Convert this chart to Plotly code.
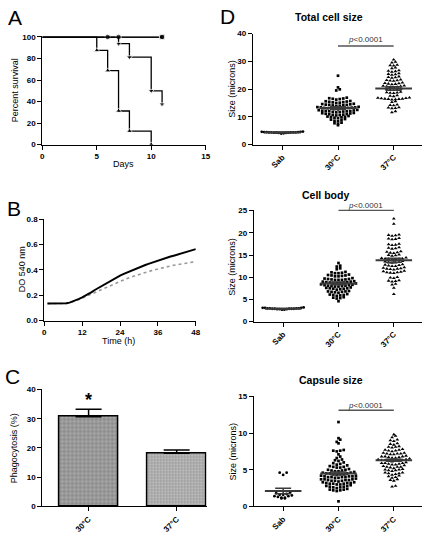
import numpy as np
import plotly.graph_objects as go

FONT = "Arial, Liberation Sans, sans-serif"
W, H = 430, 540

# ---------------- Panel A: survival ----------------
km_up_days = [0, 5, 6, 7, 8, 10]
km_up_surv = [100, 87.5, 68.75, 31.25, 12.5, 0]
km_down_days = [0, 7, 8, 10, 11]
km_down_surv = [100, 93.75, 81.25, 50, 37.5]
km_circ_days = [0, 6, 7, 11]
km_circ_surv = [100, 100, 100, 100]
km_sq_days = [0, 11]
km_sq_surv = [100, 100]

# ---------------- Panel B: growth ----------------
growth_t = list(range(1, 49))
growth_30 = [0.135, 0.135, 0.134, 0.135, 0.134, 0.135, 0.137, 0.142, 0.150, 0.160,
             0.172, 0.184, 0.196, 0.210, 0.226, 0.242, 0.257, 0.272, 0.287, 0.302,
             0.316, 0.330, 0.343, 0.356, 0.367, 0.378, 0.389, 0.400, 0.410, 0.420,
             0.430, 0.439, 0.448, 0.457, 0.466, 0.475, 0.483, 0.491, 0.498, 0.506,
             0.513, 0.520, 0.527, 0.534, 0.542, 0.549, 0.556, 0.565]
growth_37 = [0.135, 0.135, 0.134, 0.135, 0.134, 0.135, 0.136, 0.140, 0.147, 0.156,
             0.166, 0.178, 0.189, 0.200, 0.212, 0.224, 0.236, 0.248, 0.259, 0.270,
             0.281, 0.292, 0.302, 0.312, 0.322, 0.331, 0.340, 0.349, 0.357, 0.365,
             0.373, 0.381, 0.388, 0.395, 0.402, 0.409, 0.415, 0.421, 0.427, 0.432,
             0.437, 0.442, 0.447, 0.451, 0.455, 0.459, 0.462, 0.465]

# ---------------- Panel C: phagocytosis ----------------
phago_labels = ["30°C", "37°C"]
phago_vals = [30.7, 18.2]
phago_err = [2.5, 1.1]

# ---------------- Panel D: dot plots ----------------
groups = ["Sab", "30°C", "37°C"]

total_sab = [4.1, 4.2, 4.3, 4.3, 4.4, 4.4, 4.5, 4.5, 4.6, 4.4, 4.3, 4.5, 4.2, 4.6, 4.4, 4.7, 4.0, 4.4]
total_30 = [24.8, 20.6, 19.9, 19.5,
            16.4, 16.6, 16.9, 16.2, 16.7, 16.5,
            15.2, 15.5, 15.3, 15.7, 15.0, 15.4, 15.6, 15.1,
            14.2, 14.4, 14.0, 14.6, 14.3, 13.9, 14.5, 14.1, 14.7, 14.3,
            13.2, 13.0, 13.4, 12.8, 13.5, 13.1, 13.3, 12.9, 13.6, 13.2, 12.7, 13.0, 13.4,
            12.1, 11.9, 12.3, 11.7, 12.5, 12.0, 12.2, 11.8, 12.4, 12.1, 11.6, 12.0,
            11.0, 10.8, 11.2, 10.6, 11.4, 10.9, 11.1, 10.7, 11.3, 10.5,
            9.9, 9.7, 10.1, 9.5, 10.3, 9.8, 10.0,
            8.8, 8.6, 9.0, 8.4, 9.2,
            7.7, 7.5, 7.9,
            7.0]
total_37 = [30.6, 29.5, 29.8, 28.4, 28.7, 28.5, 27.4, 27.7,
            26.2, 26.5, 26.4, 26.7, 25.1, 25.4, 25.3, 25.6,
            24.0, 24.3, 24.2, 24.5, 22.9, 23.2, 23.0, 23.4, 23.1,
            21.8, 22.1, 21.9, 22.3, 22.0, 21.7,
            20.7, 21.0, 20.8, 21.2, 20.9, 20.6, 21.1,
            19.6, 19.9, 19.7, 20.1, 19.8,
            18.5, 18.8, 18.6, 19.0, 18.7,
            17.4, 17.7, 17.5,
            16.3, 16.6, 16.4, 16.8, 16.5, 16.2, 16.7, 16.5, 16.9, 16.4,
            15.3, 15.6, 14.1, 14.4, 14.2,
            13.0, 13.3, 13.1, 13.4, 11.6, 12.0]
total_mean = [4.4, 13.2, 20.2]
total_sem = [0.1, 0.45, 0.6]

body_sab = [2.9, 3.0, 2.8, 3.1, 2.9, 3.0, 2.7, 3.2, 2.9, 3.0, 2.8, 3.1, 2.9, 2.7, 3.0, 2.8, 3.1, 2.9]
body_30 = [13.2, 12.6, 12.4, 11.8, 12.0,
           10.9, 11.1, 11.0, 11.2, 10.9,
           10.2, 10.4, 10.3, 10.5, 10.6, 10.4, 10.2,
           9.5, 9.6, 9.4, 9.7, 9.4, 9.8, 9.5, 9.6, 9.4,
           8.8, 8.9, 8.7, 9.0, 8.6, 9.1, 8.8, 8.7, 9.0, 8.7, 8.9,
           8.1, 8.2, 8.0, 8.3, 7.9, 8.4, 8.1, 7.9, 8.2, 8.0,
           7.4, 7.5, 7.3, 7.6, 7.2, 7.4, 7.7, 7.5,
           6.7, 6.8, 6.6, 6.9, 6.5, 6.8, 6.7,
           6.0, 6.1, 5.9, 6.2, 5.8, 6.0,
           5.3, 5.4, 5.2, 5.5,
           4.6]
body_37 = [23.2, 22.0,
           19.3, 19.5, 19.4, 19.6,
           18.5, 18.7, 18.6, 18.8,
           17.3, 17.5, 17.2, 17.4,
           16.4, 16.6, 16.5, 16.7,
           15.5, 15.7, 15.6, 15.8, 15.4,
           14.8, 15.0, 14.9, 15.1,
           14.0, 14.2, 14.1, 14.3, 13.9, 14.4, 14.1, 14.2,
           13.2, 13.4, 13.3, 13.5, 13.6, 13.3,
           12.5, 12.7, 12.6, 12.8, 12.5, 12.9,
           11.8, 12.0, 11.9, 12.1, 11.7, 12.2, 11.9,
           11.0, 11.2, 11.1, 11.3, 10.9, 11.4, 11.1,
           9.8, 10.0, 9.9,
           9.0, 9.2, 9.1, 9.3,
           8.3, 8.5,
           7.6, 6.2]
body_mean = [2.9, 8.6, 13.8]
body_sem = [0.05, 0.3, 0.45]

caps_sab = [4.6, 4.6, 4.3, 1.9, 1.8, 1.7, 1.6, 1.6, 1.5, 1.4, 1.4, 1.3, 1.2, 1.2, 1.1, 1.1]
caps_30 = [11.5,
           9.3, 8.8, 9.1, 8.6,
           7.6, 7.5, 7.7, 7.6, 7.1,
           6.6, 6.8, 6.2, 6.3, 6.4,
           5.8, 5.9, 5.7, 6.0,
           5.3, 5.4, 5.5, 5.3, 5.6, 5.4,
           4.9, 5.0, 4.8, 5.1, 4.9, 5.0, 4.8,
           4.4, 4.5, 4.6, 4.4, 4.7, 4.5, 4.3, 4.6, 4.5, 4.4,
           4.0, 4.1, 3.9, 4.2, 4.0, 4.1, 3.9, 4.2, 4.0, 4.1, 4.0,
           3.5, 3.6, 3.7, 3.5, 3.8, 3.6, 3.4, 3.7, 3.5, 3.6, 3.7,
           3.1, 3.2, 3.0, 3.3, 3.1, 3.2, 3.0, 3.3, 3.1, 3.2,
           2.6, 2.7, 2.8, 2.6, 2.9, 2.7, 2.5, 2.8,
           2.2, 2.3, 2.1, 2.4, 2.2, 2.3,
           0.7]
caps_37 = [9.8, 9.4, 9.6, 8.9, 9.0, 9.1, 8.5, 8.6, 8.4,
           8.0, 8.1, 8.2, 8.1,
           7.6, 7.7, 7.5, 7.8, 7.6, 7.7,
           7.1, 7.2, 7.3, 7.1, 7.2, 7.3, 7.2,
           6.7, 6.8, 6.6, 6.9, 6.7, 6.8, 6.6, 6.8,
           6.3, 6.2, 6.4, 6.3, 6.2, 6.4, 6.3, 6.5, 6.1, 6.3,
           5.8, 5.9, 5.7, 6.0, 5.8, 5.9, 5.7, 5.9,
           5.4, 5.3, 5.5, 5.4, 5.2, 5.6, 5.4,
           4.9, 5.0, 4.8, 5.1, 4.9, 5.0,
           4.5, 4.4, 4.6, 4.5, 4.3, 4.6,
           4.0, 4.1, 3.9, 4.2,
           3.6, 3.5, 3.7,
           2.7, 2.8]
caps_mean = [2.1, 4.5, 6.3]
caps_sem = [0.38, 0.2, 0.15]


def px(x):
    return x / W


def py(y):
    return 1 - y / H


def swarm(vals, center, bw, dx, maxw):
    v = np.asarray(vals, float)
    k = np.round(v / bw).astype(int)
    x = np.empty_like(v)
    for b in np.unique(k):
        idx = np.where(k == b)[0]
        idx = idx[np.argsort(v[idx], kind="stable")]
        n = len(idx)
        step = dx if n <= 1 else min(dx, maxw / (n - 1))
        if n % 2:
            slots = [0] + [s for j in range(1, n // 2 + 1) for s in (-j, j)]
        else:
            slots = [s for j in range(n // 2) for s in (-(j + 0.5), j + 0.5)]
        x[idx] = center + np.array(slots[:n]) * step
    return x


fig = go.Figure()

tickfont = dict(size=8, family=FONT, color="black", weight="bold")


def axis(domain, **kw):
    d = dict(domain=domain, showline=True, linecolor="black", linewidth=1,
             ticks="outside", ticklen=4, tickwidth=1, tickcolor="black",
             showgrid=False, zeroline=False, tickfont=tickfont)
    d.update(kw)
    return d


# ---- A ----
def km_trace(days, surv, symbol):
    sizes = [0] + [5.5] * (len(days) - 1)
    return go.Scatter(x=days, y=surv, mode="lines+markers", line=dict(color="black", width=1.3, shape="hv"),
                      marker=dict(symbol=symbol, size=sizes, color="black"), cliponaxis=False,
                      xaxis="x", yaxis="y", showlegend=False)


fig.add_trace(km_trace(km_sq_days, km_sq_surv, "square"))
fig.add_trace(km_trace(km_circ_days, km_circ_surv, "circle"))
fig.add_trace(km_trace(km_down_days, km_down_surv, "triangle-down"))
fig.add_trace(km_trace(km_up_days, km_up_surv, "triangle-up"))

# ---- B ----
fig.add_trace(go.Scatter(x=growth_t, y=growth_37, mode="lines", line=dict(color="#999999", width=1.6, dash="dot"),
                         xaxis="x2", yaxis="y2", showlegend=False))
fig.add_trace(go.Scatter(x=growth_t, y=growth_30, mode="lines", line=dict(color="black", width=2),
                         xaxis="x2", yaxis="y2", showlegend=False))

# ---- C ----
fig.add_trace(go.Bar(x=[0, 1], y=phago_vals, width=0.67,
                     marker=dict(color=["#a8a8a8", "white"], line=dict(color="black", width=1.5),
                                 pattern=dict(shape=["+", "+"], size=[4, 3], solidity=[0.3, 0.85],
                                              fgcolor=["#f4f4f4", "black"],
                                              bgcolor=["#a8a8a8", "white"])),
                     error_y=dict(type="data", symmetric=False, array=phago_err, arrayminus=[0, 0],
                                  width=13, thickness=1.5, color="black"),
                     xaxis="x3", yaxis="y3", showlegend=False))

# ---- D ----
dsets = [
    ("x4", "y4", [total_sab, total_30, total_37], total_mean, total_sem, 1.1),
    ("x5", "y5", [body_sab, body_30, body_37], body_mean, body_sem, 0.75),
    ("x6", "y6", [caps_sab, caps_30, caps_37], caps_mean, caps_sem, 0.45),
]
symbols = ["circle", "square", "triangle-up"]
msizes = [2.8, 2.7, 3.4]
for xa, ya, data, means, sems, bw in dsets:
    for i, vals in enumerate(data):
        xs = swarm(vals, i, bw, 0.063, 0.74)
        fig.add_trace(go.Scatter(x=xs, y=vals, mode="markers",
                                 marker=dict(symbol=symbols[i], size=msizes[i], color="black", line=dict(width=0)),
                                 cliponaxis=False, xaxis=xa, yaxis=ya, showlegend=False))
    for i in range(3):
        fig.add_trace(go.Scatter(x=[i - 0.33, i + 0.33], y=[means[i], means[i]], mode="lines",
                                 line=dict(color="#3a3a3a", width=2), xaxis=xa, yaxis=ya, showlegend=False))
        fig.add_trace(go.Scatter(x=[i], y=[means[i]], mode="markers", marker=dict(size=1, opacity=0),
                                 error_y=dict(type="data", array=[sems[i]], width=8, thickness=1.5, color="#3a3a3a"),
                                 xaxis=xa, yaxis=ya, showlegend=False))

# p-value bars (line y in data units, text y in pixels)
pbars = [("x4", "y4", 35.5, 36), ("x5", "y5", 25.1, 205), ("x6", "y6", 13.1, 408)]
for xa, ya, yl, yt in pbars:
    fig.add_trace(go.Scatter(x=[1, 2], y=[yl, yl], mode="lines", line=dict(color="#555555", width=1.5),
                             xaxis=xa, yaxis=ya, showlegend=False, cliponaxis=False))

layout = dict(
    width=W, height=H, margin=dict(l=0, r=0, t=0, b=0),
    paper_bgcolor="white", plot_bgcolor="white",
    font=dict(family=FONT, color="black"),
    xaxis=axis([px(41), px(207)], range=[0, 15], tickvals=[0, 5, 10, 15], anchor="y"),
    yaxis=axis([py(143), py(33)], range=[0, 100.5], tickvals=[0, 20, 40, 60, 80, 100], anchor="x"),
    xaxis2=axis([px(43), px(197)], range=[0, 48], tickvals=[0, 12, 24, 36, 48], anchor="y2"),
    yaxis2=axis([py(322), py(219)], range=[0, 0.8], tickvals=[0, 0.2, 0.4, 0.6, 0.8], tickformat=".1f", anchor="x2"),
    xaxis3=axis([px(41), px(208)], range=[-0.525, 1.34], tickvals=[0, 1], ticktext=phago_labels,
                tickangle=-45, anchor="y3"),
    yaxis3=axis([py(511), py(392)], range=[0, 40], tickvals=[0, 10, 20, 30, 40], anchor="x3"),
    xaxis4=axis([px(255), px(427)], range=[-0.53, 2.51], tickvals=[0, 1, 2], ticktext=groups,
                tickangle=-45, anchor="y4"),
    yaxis4=axis([py(143), py(30)], range=[0, 40], tickvals=[0, 10, 20, 30, 40], anchor="x4"),
    xaxis5=axis([px(256), px(427)], range=[-0.53, 2.51], tickvals=[0, 1, 2], ticktext=groups,
                tickangle=-45, anchor="y5"),
    yaxis5=axis([py(323), py(209)], range=[0, 25.25], tickvals=[0, 5, 10, 15, 20, 25], anchor="x5"),
    xaxis6=axis([px(256), px(427)], range=[-0.53, 2.51], tickvals=[0, 1, 2], ticktext=groups,
                tickangle=-45, anchor="y6"),
    yaxis6=axis([py(511), py(399)], range=[0, 15], tickvals=[0, 5, 10, 15], anchor="x6"),
    bargap=0,
)
fig.update_layout(**layout)

ann = []


def text(x, y, s, size=9, bold=False, angle=0, anchor="center", color="black"):
    ann.append(dict(x=px(x), y=py(y), xref="paper", yref="paper", text=s, showarrow=False,
                    textangle=angle, xanchor=anchor, yanchor="middle",
                    font=dict(size=size, family=FONT, color=color, weight="bold" if bold else "normal")))


# panel letters
text(13, 14, "A", 21)
text(12, 208, "B", 21)
text(11, 379, "C", 21)
text(229, 13, "D", 21)
# axis titles
text(13, 88, "Percent survival", 9, angle=-90)
text(124, 163, "Days", 9)
text(20, 270, "DO 540 nm", 9, angle=-90)
text(118, 343, "Time (h)", 9)
text(13, 452, "Phagocytosis (%)", 9, angle=-90)
text(233, 86, "Size (microns)", 9, angle=-90)
text(233, 267, "Size (microns)", 9, angle=-90)
text(235, 455, "Size (microns)", 9, angle=-90)
# D titles
text(332, 13, "Total cell size", 10.5, bold=True)
text(329, 194, "Cell body", 10.5, bold=True)
text(334, 382, "Capsule size", 10.5, bold=True)
# p-values
x_mid = 255 + (1.5 + 0.53) / 3.04 * 172
for xa, ya, yl, yt in pbars:
    text(x_mid, yt, "<i>p</i>&lt;0.0001", 8, color="#333333")
fig.update_layout(annotations=ann)

# asterisk (data coords)
fig.add_annotation(x=0, y=36.3, xref="x3", yref="y3", text="*", showarrow=False,
                   font=dict(size=18, family=FONT, color="black", weight="bold"))

fig.write_html("out.html", post_script="document.body.style.margin='0';",
               config={"displayModeBar": False})
